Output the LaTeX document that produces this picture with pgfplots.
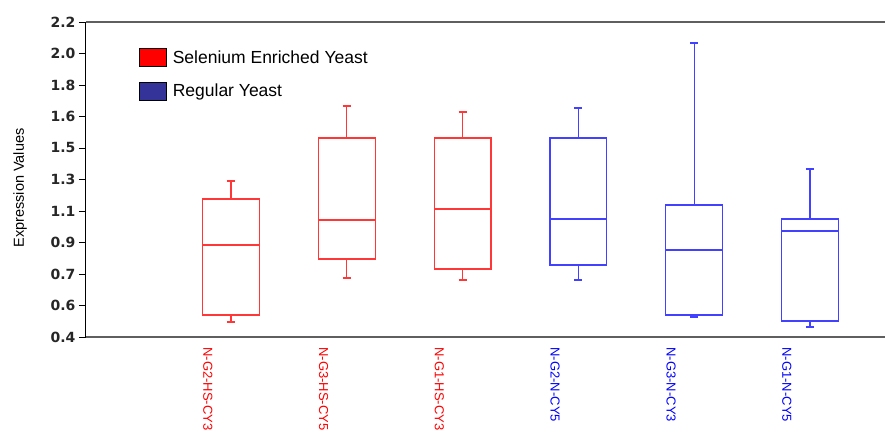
\documentclass[border=0pt]{standalone}
\usepackage{pgfplots}
\pgfplotsset{compat=1.18}
\usepgfplotslibrary{statistics}
\usetikzlibrary{calc}
\usepackage{fontspec}
\setmainfont{Liberation Sans}
\newfontfamily\tickfont{DejaVu Sans}
\definecolor{boxred}{RGB}{255,55,55}
\definecolor{boxblue}{RGB}{65,65,255}
\definecolor{legred}{RGB}{255,0,0}
\definecolor{legblue}{RGB}{51,51,153}
\definecolor{framegray}{RGB}{95,95,95}

\begin{document}
\begin{tikzpicture}
\begin{axis}[
  scale only axis, width=799pt, height=315pt,
  xmin=-0.252, xmax=6.648, ymin=0.4, ymax=2.2,
  separate axis lines,
  axis x line*=box, axis y line*=left,
  x axis line style={framegray, line width=1.8pt},
  y axis line style={black, line width=1pt},
  xtick={0.8,1.8,2.8,3.8,4.8,5.8},
  xticklabels={
    \textcolor{red}{N-G2-HS-CY3},\textcolor{red}{N-G3-HS-CY5},\textcolor{red}{N-G1-HS-CY3},
    \textcolor{blue}{N-G2-N-CY5},\textcolor{blue}{N-G3-N-CY3},\textcolor{blue}{N-G1-N-CY5}},
  xtick style={draw=none},
  x tick label style={rotate=-90, anchor=west, font=\fontsize{13}{13}\selectfont},
  ytick={0.4,0.58,0.76,0.94,1.12,1.30,1.48,1.66,1.84,2.02,2.2},
  yticklabels={0.4,0.6,0.7,0.9,1.1,1.3,1.5,1.6,1.8,2.0,2.2},
  y tick label style={font=\tickfont\bfseries\fontsize{14}{14}\selectfont, text=black!85},
  ytick style={black, line width=0.8pt},
  tick align=outside, major tick length=7pt,
  ylabel={Expression Values},
  ylabel style={font=\fontsize{14.5}{14.5}\selectfont, at={(axis description cs:-0.0826,0.473)}, anchor=center},
  legend style={at={(axis description cs:0,1)}, anchor=north west, xshift=50pt, yshift=-24pt,
    draw=none, fill=none, font=\fontsize{17.5}{17.5}\selectfont, row sep=15pt, cells={anchor=west}},
  legend image code/.code={\draw[#1, draw=black, line width=0.6pt] (0pt,-9pt) rectangle (27pt,9pt);},
  boxplot/draw direction=y,
  boxplot/box extend=0.49,
  boxplot/whisker extend=0.07,
]
\addlegendimage{fill=legred}
\addlegendentry{\hspace{4pt}Selenium Enriched Yeast}
\addlegendimage{fill=legblue}
\addlegendentry{\hspace{4pt}Regular Yeast}

% Selenium enriched yeast
\addplot[boxred, line width=1.2pt, boxplot prepared={draw position=1,
  lower whisker=0.486, lower quartile=0.526, median=0.926,
  upper quartile=1.189, upper whisker=1.291}] coordinates {};
\addplot[boxred, line width=1.2pt, boxplot prepared={draw position=2,
  lower whisker=0.737, lower quartile=0.846, median=1.069,
  upper quartile=1.537, upper whisker=1.720}] coordinates {};
\addplot[boxred, line width=1.2pt, boxplot prepared={draw position=3,
  lower whisker=0.726, lower quartile=0.789, median=1.131,
  upper quartile=1.537, upper whisker=1.686}] coordinates {};
% Regular yeast
\addplot[boxblue, line width=1.2pt, boxplot prepared={draw position=4,
  lower whisker=0.726, lower quartile=0.811, median=1.074,
  upper quartile=1.537, upper whisker=1.709}] coordinates {};
\addplot[boxblue, line width=1.2pt, boxplot prepared={draw position=5,
  lower whisker=0.514, lower quartile=0.526, median=0.897,
  upper quartile=1.154, upper whisker=2.080}] coordinates {};
\addplot[boxblue, line width=1.2pt, boxplot prepared={draw position=6,
  lower whisker=0.457, lower quartile=0.491, median=1.006,
  upper quartile=1.074, upper whisker=1.360}] coordinates {};

\coordinate (bl) at (rel axis cs:0,0);
\coordinate (tr) at (rel axis cs:1,1);
\end{axis}
\pgfresetboundingbox
\path[use as bounding box] ($(bl)+(-86pt,-98pt)$) rectangle ($(tr)+(0pt,22pt)$);
\end{tikzpicture}
\end{document}
